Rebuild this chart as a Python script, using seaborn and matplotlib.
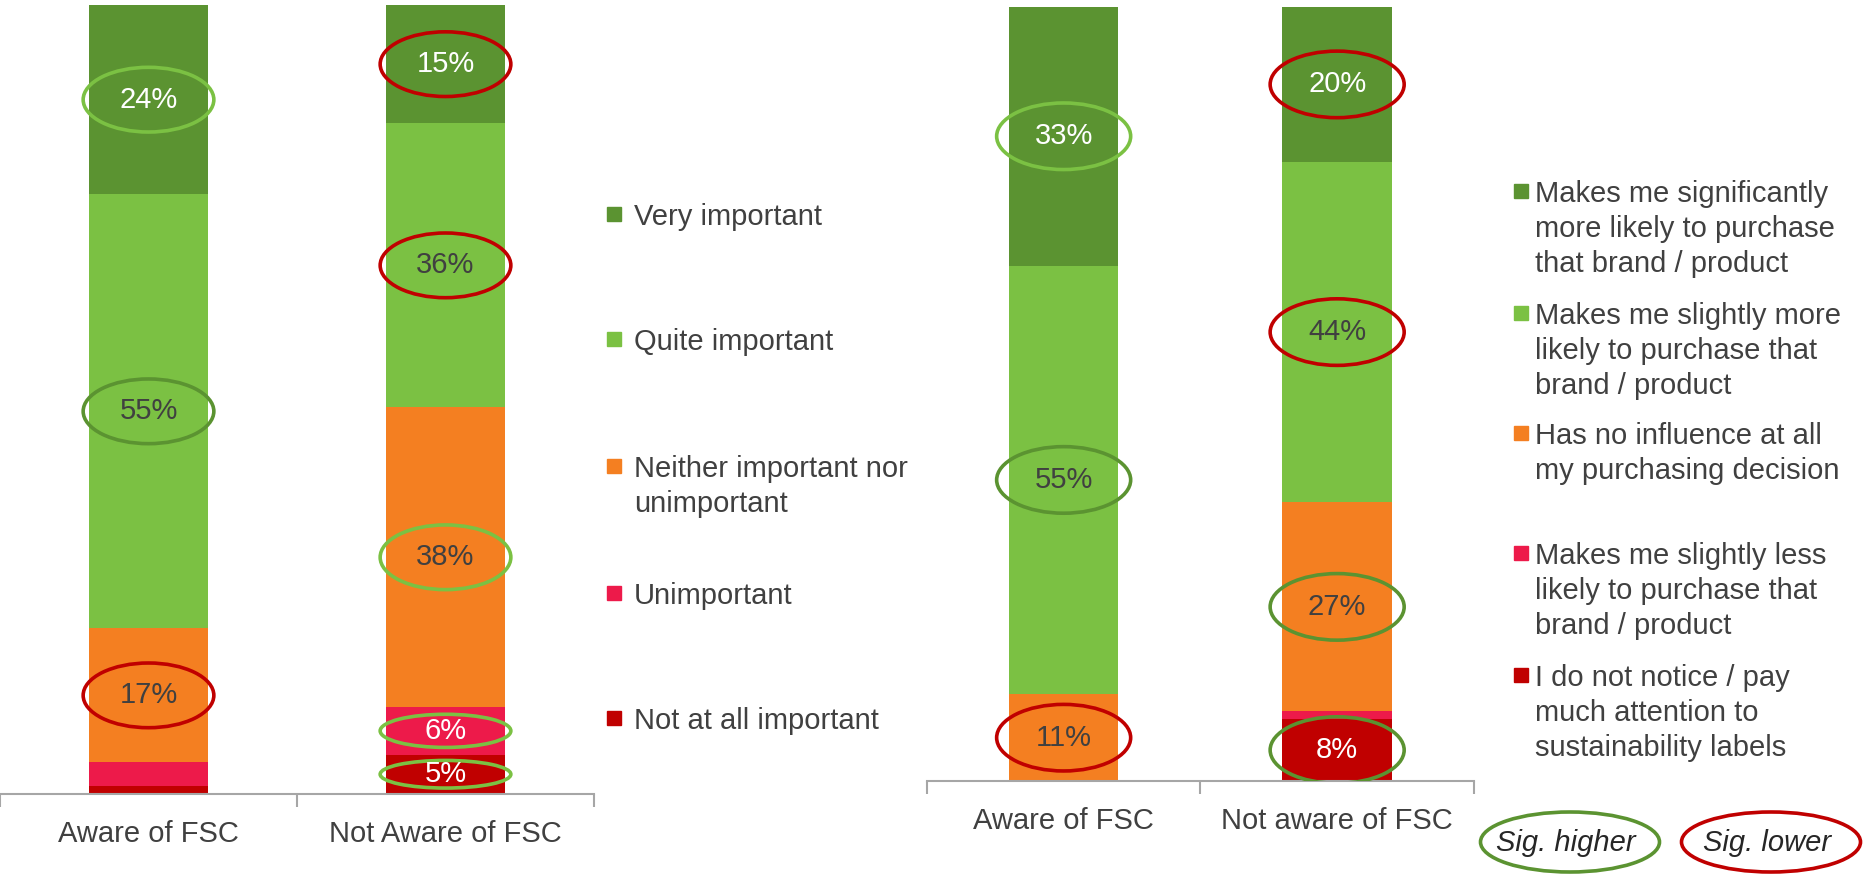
import matplotlib.pyplot as plt
import numpy as np
import seaborn as sns
from matplotlib.patches import Ellipse, Rectangle

# ---- left chart: importance of sustainability labels ----
left_groups = ["Aware of FSC", "Not Aware of FSC"]
left_labels = ["Very important", "Quite important",
               "Neither important nor\nunimportant", "Unimportant",
               "Not at all important"]
left_very = [24, 15]
left_quite = [55, 36]
left_neither = [17, 38]
left_unimp = [3, 6]
left_notatall = [1, 5]
# significance per segment (top segment first): "+" higher, "-" lower
left_sig_aware = ["+", "+", "-", "", ""]
left_sig_not = ["-", "-", "+", "+", "+"]

# ---- right chart: influence of labels on purchase ----
right_groups = ["Aware of FSC", "Not aware of FSC"]
right_labels = ["Makes me significantly\nmore likely to purchase\nthat brand / product",
                "Makes me slightly more\nlikely to purchase that\nbrand / product",
                "Has no influence at all\nmy purchasing decision",
                "Makes me slightly less\nlikely to purchase that\nbrand / product",
                "I do not notice / pay\nmuch attention to\nsustainability labels"]
right_sig_more = [33.4, 20]
right_slight_more = [55.4, 44]
right_no_infl = [11.2, 27]
right_slight_less = [0, 1]
right_not_notice = [0, 8]
right_sig_aware = ["+", "+", "-", "", ""]
right_sig_not = ["-", "-", "+", "", "+"]

seg_colors = ["#5B9331", "#7BC143", "#F47F21", "#ED1A4A", "#C00000"]
txt_colors = ["white", "#404040", "#404040", "white", "white"]
DARK_G, LIGHT_G, RED = "#5B9331", "#7BC143", "#C00000"
W, H = 1865, 875

sns.set_theme(style="white")
plt.rcParams['font.family'] = ['Liberation Sans', 'DejaVu Sans']
FS = 21


def fx(x):
    return x / W


def fy(y):
    return 1 - y / H


def draw_stack(ax, groups, series, sigs, hi_color, ell_w, ell_h, shrink):
    vals = np.array(series, dtype=float)          # rows = segments, top first
    tops = np.cumsum(vals[::-1], axis=0)[::-1]    # top edge of each segment
    for i in range(len(vals)):
        sns.barplot(x=groups, y=tops[i], color=seg_colors[i], width=0.4,
                    saturation=1, linewidth=0, errorbar=None, ax=ax)
    for j in range(len(groups)):
        for i in range(len(vals)):
            v = vals[i, j]
            mid = tops[i, j] - v / 2
            if v >= 5:
                ax.text(j, mid, f"{v:.0f}%", ha="center", va="center",
                        color=txt_colors[i], fontsize=FS, zorder=6)
            s = sigs[j][i]
            if s:
                if s == "-":
                    c = RED
                else:
                    c = hi_color if seg_colors[i] != hi_color else (
                        LIGHT_G if hi_color == DARK_G else DARK_G)
                h = ell_h if shrink is None else min(ell_h, shrink * v)
                ax.add_patch(Ellipse((j, mid), ell_w, h, fill=False, ec=c,
                                     lw=2.6, zorder=5))
    ax.set_ylim(0, 100)
    ax.set_xlim(-0.5, 1.5)
    ax.set_xlabel("")
    ax.set_ylabel("")
    ax.set_yticks([])
    for sp in ["left", "right", "top"]:
        ax.spines[sp].set_visible(False)
    ax.spines["bottom"].set_color("#A6A6A6")
    ax.spines["bottom"].set_linewidth(1.5)
    ax.set_xticks([-0.5, 0.5, 1.5], minor=True)
    ax.tick_params(axis="x", which="major", length=0, pad=19,
                   labelsize=FS, labelcolor="#404040")
    ax.tick_params(axis="x", which="minor", length=9.5, width=1.5,
                   color="#A6A6A6", direction="out", bottom=True)


def draw_legend(fig, labels, sq_x, txt_x, ys):
    for lab, c, y in zip(labels, seg_colors, ys):
        fig.add_artist(Rectangle((fx(sq_x - 7), fy(y + 7)), 14 / W, 14 / H,
                                 color=c, transform=fig.transFigure))
        fig.text(fx(txt_x), fy(y - 11), lab, ha="left", va="top",
                 fontsize=FS, color="#404040", linespacing=1.32)


fig = plt.figure(figsize=(W / 100, H / 100), dpi=100)
ax1 = fig.add_axes([0, 0.0926, 0.3185, 0.9017])
ax2 = fig.add_axes([0.497, 0.1074, 0.2933, 0.8846])

draw_stack(ax1, left_groups,
           [left_very, left_quite, left_neither, left_unimp, left_notatall],
           [left_sig_aware, left_sig_not], LIGHT_G, 0.44, 8.2, 0.7)
draw_stack(ax2, right_groups,
           [right_sig_more, right_slight_more, right_no_infl,
            right_slight_less, right_not_notice],
           [right_sig_aware, right_sig_not], DARK_G, 0.49, 8.6, None)

draw_legend(fig, left_labels, 614, 634, [214, 339, 466, 593, 718])
draw_legend(fig, right_labels, 1521, 1535, [191, 313, 433, 553, 675])

# significance key
for cx, c, lab in [(1570, DARK_G, "Sig. higher"), (1771, RED, "Sig. lower")]:
    fig.add_artist(Ellipse((fx(cx), fy(842)), 179 / W, 60 / H, fill=False,
                           ec=c, lw=2.6, transform=fig.transFigure))
    fig.text(fx(cx - 4), fy(843), lab, ha="center", va="center", fontsize=FS,
             style="italic", color="#262626")

plt.savefig("out.png", dpi=100)
